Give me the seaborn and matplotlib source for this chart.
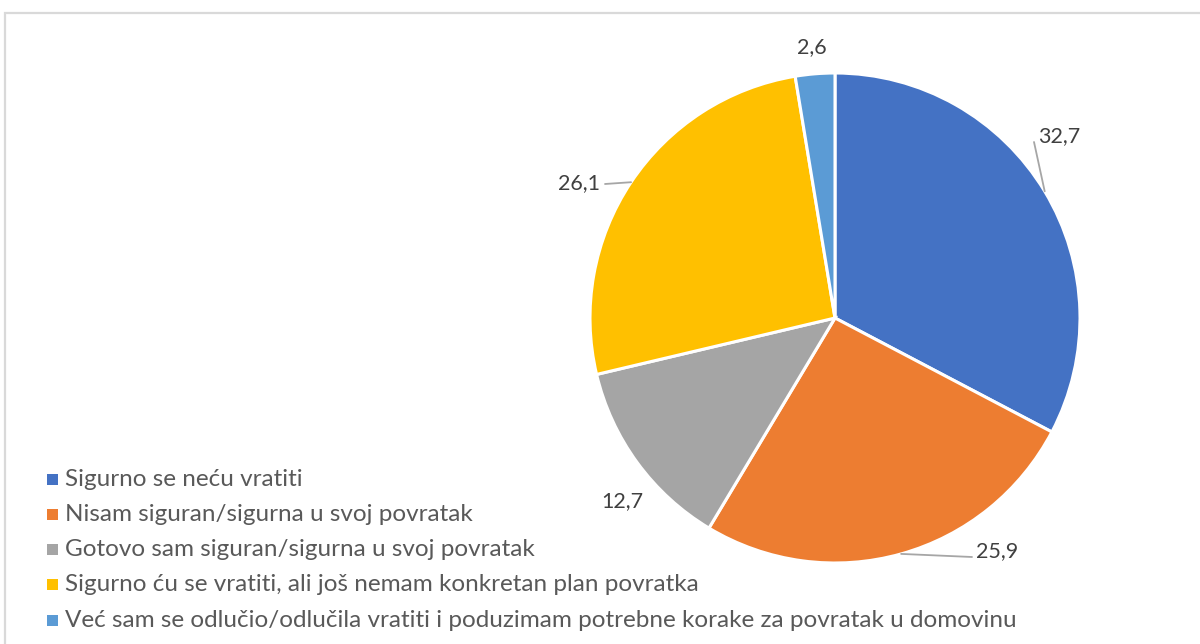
import numpy as np
import matplotlib
matplotlib.use("Agg")
import matplotlib.pyplot as plt
from matplotlib.patches import Rectangle
import seaborn as sns

categories = [
    "Sigurno se neću vratiti",
    "Nisam siguran/sigurna u svoj povratak",
    "Gotovo sam siguran/sigurna u svoj povratak",
    "Sigurno ću se vratiti, ali još nemam konkretan plan povratka",
    "Već sam se odlučio/odlučila vratiti i poduzimam potrebne korake za povratak u domovinu",
]
values = [32.7, 25.9, 12.7, 26.1, 2.6]
value_labels = ["32,7", "25,9", "12,7", "26,1", "2,6"]
colors = ["#4472C4", "#ED7D31", "#A5A5A5", "#FFC000", "#5B9BD5"]

sns.set_theme(style="white")
plt.rcParams["font.family"] = ["Lato", "DejaVu Sans"]

W, H = 1200, 644
fig = plt.figure(figsize=(W / 100, H / 100), dpi=100)
ax = fig.add_axes([0, 0, 1, 1])

# chart area frame
ax.add_patch(Rectangle((5, -10), W + 20, H - 13 + 10, fill=False,
                       edgecolor="#D9D9D9", linewidth=1.6))

cx, cy, r = 835, H - 318, 245
wedges, _ = ax.pie(values, colors=colors, startangle=90, counterclock=False,
                   center=(cx, cy), radius=r, frame=True,
                   wedgeprops=dict(edgecolor="white", linewidth=2.2))
ax.set_xlim(0, W)
ax.set_ylim(0, H)
ax.set_axis_off()

# value labels: (label centre x, label row, leader end x, leader end row)
label_layout = [
    (1059, 136, 1034, 142),
    (997, 551, 972, 557),
    (622, 501, None, None),
    (579, 183, 605, 184),
    (812, 47, None, None),
]
cum = np.cumsum([0] + values)
for i, v in enumerate(values):
    mid = np.deg2rad((cum[i] + v / 2) / 100 * 360)
    ex, ey = cx + r * np.sin(mid), cy + r * np.cos(mid)
    lx, ly, tx, ty = label_layout[i]
    if tx is not None:
        ax.plot([ex, tx], [ey, H - ty], color="#A6A6A6", linewidth=1.3,
                solid_capstyle="round")
    ax.text(lx, H - ly, value_labels[i], ha="center", va="center",
            fontsize=15.5, color="#404040")

# legend
for i, (name, col) in enumerate(zip(categories, colors)):
    yy = H - (479 + i * 35.3)
    ax.add_patch(Rectangle((47, yy - 5.5), 11, 11, facecolor=col, edgecolor="none"))
    ax.text(65, yy, name, ha="left", va="center", fontsize=17.5, color="#595959")

fig.savefig("out.png", dpi=100)
